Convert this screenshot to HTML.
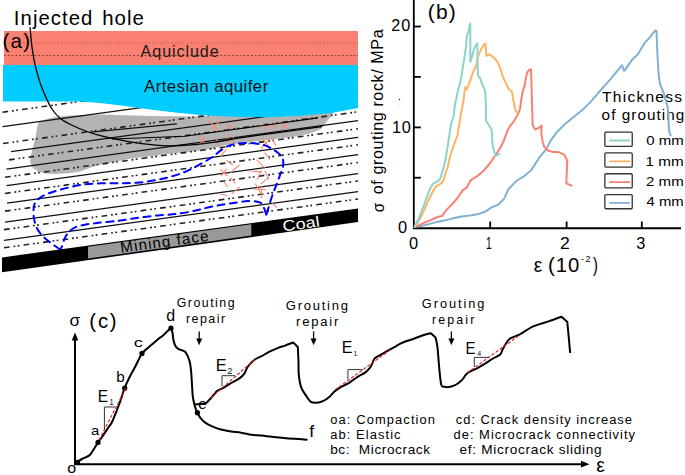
<!DOCTYPE html>
<html><head><meta charset="utf-8"><style>
html,body{margin:0;padding:0;background:#fff;}
svg{display:block;}
text{font-family:"Liberation Sans",sans-serif;white-space:pre;}
</style></head><body>
<svg width="685" height="475" viewBox="0 0 685 475">
<rect width="685" height="475" fill="#fff"/>
<polygon points="38.5,122.6 45.0,119.5 55.0,117.0 70.0,115.5 100.0,114.5 150.0,116.0 195.0,116.5 240.0,114.0 300.0,111.0 335.0,110.0 333.0,114.0 328.0,120.0 321.0,129.0 314.0,132.0 308.0,133.8 300.0,136.0 275.0,139.0 250.0,142.0 225.0,145.3 212.6,148.4 192.2,151.5 171.7,153.5 151.3,156.2 130.9,158.6 110.4,162.7 98.0,165.0 90.0,167.8 80.0,171.5 70.5,173.0 55.0,174.0 45.0,173.6 38.0,171.5 33.0,168.0 30.0,162.0 31.0,155.0 32.6,148.7 34.5,141.0 36.0,135.0 37.0,128.0" fill="#B3B3B3"/>
<line x1="2.5" y1="112.17" x2="358" y2="63.22" stroke="#222" stroke-width="1.6" stroke-dasharray="5.7 3.9 1.8 2.3 1.8 4.2"/>
<line x1="2.5" y1="126.67" x2="358" y2="77.72" stroke="#111" stroke-width="1.25"/>
<line x1="3" y1="143.50" x2="358" y2="94.62" stroke="#222" stroke-width="1.6" stroke-dasharray="5.7 3.9 1.8 2.3 1.8 4.2"/>
<line x1="11" y1="151.70" x2="358" y2="103.92" stroke="#111" stroke-width="1.25"/>
<line x1="9" y1="159.87" x2="358" y2="111.82" stroke="#222" stroke-width="1.6" stroke-dasharray="5.7 3.9 1.8 2.3 1.8 4.2"/>
<line x1="6.4" y1="169.03" x2="358" y2="120.62" stroke="#111" stroke-width="1.25"/>
<line x1="5" y1="177.32" x2="358" y2="128.72" stroke="#222" stroke-width="1.6" stroke-dasharray="5.7 3.9 1.8 2.3 1.8 4.2"/>
<line x1="6.6" y1="185.70" x2="358" y2="137.32" stroke="#111" stroke-width="1.25"/>
<line x1="5" y1="193.42" x2="358" y2="144.82" stroke="#222" stroke-width="1.6" stroke-dasharray="5.7 3.9 1.8 2.3 1.8 4.2"/>
<line x1="7" y1="203.05" x2="358" y2="154.72" stroke="#111" stroke-width="1.25"/>
<line x1="5" y1="211.12" x2="358" y2="162.52" stroke="#222" stroke-width="1.6" stroke-dasharray="5.7 3.9 1.8 2.3 1.8 4.2"/>
<line x1="5" y1="222.22" x2="358" y2="173.62" stroke="#111" stroke-width="1.25"/>
<line x1="4" y1="229.66" x2="358" y2="180.92" stroke="#222" stroke-width="1.6" stroke-dasharray="5.7 3.9 1.8 2.3 1.8 4.2"/>
<line x1="4" y1="240.26" x2="358" y2="191.52" stroke="#111" stroke-width="1.25"/>
<line x1="4" y1="247.76" x2="358" y2="199.02" stroke="#222" stroke-width="1.6" stroke-dasharray="5.7 3.9 1.8 2.3 1.8 4.2"/>
<line x1="90.7" y1="132.1" x2="176.9" y2="123.9" stroke="#111" stroke-width="1.25"/>
<line x1="208.9" y1="120.8" x2="219.1" y2="131.0" stroke="#F58A78" stroke-width="1.1"/>
<line x1="219.8" y1="120.8" x2="211.1" y2="130.2" stroke="#F58A78" stroke-width="1.1"/>
<line x1="226.4" y1="131.0" x2="227.8" y2="124.4" stroke="#F58A78" stroke-width="1.1"/>
<line x1="227.8" y1="124.4" x2="232.2" y2="128.8" stroke="#F58A78" stroke-width="1.1"/>
<line x1="227.8" y1="133.9" x2="227.8" y2="142.7" stroke="#F58A78" stroke-width="1.1"/>
<line x1="215.4" y1="136.1" x2="219.1" y2="147.0" stroke="#F58A78" stroke-width="1.1"/>
<line x1="233.0" y1="136.8" x2="234.4" y2="143.4" stroke="#F58A78" stroke-width="1.1"/>
<line x1="198.6" y1="136.8" x2="204.5" y2="143.4" stroke="#F58A78" stroke-width="1.1"/>
<line x1="204.5" y1="136.8" x2="199.4" y2="144.1" stroke="#F58A78" stroke-width="1.1"/>
<line x1="257.8" y1="126.6" x2="263.6" y2="124.4" stroke="#F58A78" stroke-width="1.1"/>
<line x1="263.6" y1="124.4" x2="266.5" y2="131.0" stroke="#F58A78" stroke-width="1.1"/>
<line x1="268.0" y1="128.0" x2="273.8" y2="122.2" stroke="#F58A78" stroke-width="1.1"/>
<line x1="273.8" y1="122.2" x2="275.3" y2="128.0" stroke="#F58A78" stroke-width="1.1"/>
<line x1="281.1" y1="121.5" x2="288.4" y2="129.5" stroke="#F58A78" stroke-width="1.1"/>
<line x1="288.4" y1="121.5" x2="281.1" y2="130.2" stroke="#F58A78" stroke-width="1.1"/>
<line x1="261.4" y1="137.5" x2="270.9" y2="148.5" stroke="#F58A78" stroke-width="1.1"/>
<line x1="269.5" y1="139.0" x2="260.7" y2="149.2" stroke="#F58A78" stroke-width="1.1"/>
<line x1="270.9" y1="137.5" x2="276.0" y2="145.6" stroke="#F58A78" stroke-width="1.1"/>
<line x1="226.6" y1="149.2" x2="220.3" y2="156.7" stroke="#F58A78" stroke-width="1.1"/>
<line x1="226.4" y1="160.3" x2="232.6" y2="165.0" stroke="#F58A78" stroke-width="1.1"/>
<line x1="239.4" y1="165.0" x2="230.5" y2="172.6" stroke="#F58A78" stroke-width="1.1"/>
<line x1="220.3" y1="169.2" x2="227.2" y2="176.0" stroke="#F58A78" stroke-width="1.1"/>
<line x1="226.5" y1="169.2" x2="221.0" y2="176.0" stroke="#F58A78" stroke-width="1.1"/>
<line x1="230.5" y1="177.4" x2="235.3" y2="183.5" stroke="#F58A78" stroke-width="1.1"/>
<line x1="223.7" y1="181.5" x2="227.8" y2="187.0" stroke="#F58A78" stroke-width="1.1"/>
<line x1="239.4" y1="187.0" x2="231.9" y2="193.8" stroke="#F58A78" stroke-width="1.1"/>
<line x1="220.3" y1="193.8" x2="227.1" y2="195.8" stroke="#F58A78" stroke-width="1.1"/>
<line x1="256.5" y1="159.6" x2="264.7" y2="167.8" stroke="#F58A78" stroke-width="1.1"/>
<line x1="251.0" y1="171.2" x2="262.0" y2="171.9" stroke="#F58A78" stroke-width="1.1"/>
<line x1="261.3" y1="170.5" x2="257.2" y2="179.4" stroke="#F58A78" stroke-width="1.1"/>
<line x1="264.7" y1="170.5" x2="268.8" y2="179.4" stroke="#F58A78" stroke-width="1.1"/>
<line x1="268.8" y1="177.4" x2="260.6" y2="184.2" stroke="#F58A78" stroke-width="1.1"/>
<line x1="255.1" y1="183.5" x2="261.3" y2="193.8" stroke="#F58A78" stroke-width="1.1"/>
<line x1="253.8" y1="189.0" x2="266.1" y2="189.7" stroke="#F58A78" stroke-width="1.1"/>
<line x1="261.3" y1="185.6" x2="261.3" y2="197.9" stroke="#F58A78" stroke-width="1.1"/>
<line x1="264.7" y1="152.7" x2="270.2" y2="159.6" stroke="#F58A78" stroke-width="1.1"/>
<line x1="272.2" y1="203.4" x2="277.0" y2="207.5" stroke="#F58A78" stroke-width="1.1"/>
<path d="M60,249.5 C58.9,248.7 56.1,246.9 53.4,244.8 C50.7,242.8 46.4,239.6 43.9,237.2 C41.4,234.8 39.9,233.3 38.3,230.6 C36.7,227.9 35.3,224.2 34.5,221.1 C33.7,217.9 33.5,214.5 33.5,211.7 C33.5,208.9 33.5,206.3 34.5,204.1 C35.5,201.9 37.0,200.1 39.2,198.4 C41.4,196.7 43.8,195.3 47.7,193.7 C51.7,192.1 57.2,190.4 62.9,188.9 C68.6,187.4 75.5,185.7 81.8,184.8 C88.1,183.9 94.4,183.6 100.8,183.3 C107.2,183.0 113.7,183.3 120.0,183.2 C126.3,183.1 132.6,183.2 138.9,182.6 C145.2,182.0 152.2,180.9 157.9,179.8 C163.6,178.7 168.3,177.4 173.0,176.0 C177.7,174.6 181.9,173.2 186.3,171.3 C190.7,169.4 195.4,166.8 199.5,164.6 C203.6,162.4 207.9,159.9 210.9,158.0 C213.9,156.1 215.2,154.8 217.6,153.0 C220.0,151.2 222.4,148.8 225.2,147.3 C228.0,145.8 231.1,144.8 234.6,144.1 C238.1,143.4 242.5,143.1 246.0,143.0 C249.5,142.9 252.3,143.1 255.5,143.5 C258.7,143.9 262.2,144.5 265.0,145.4 C267.8,146.3 270.1,147.8 272.5,149.2 C274.9,150.6 277.5,152.2 279.2,153.9 C280.9,155.6 282.3,157.4 282.9,159.6 C283.5,161.8 283.4,164.7 282.9,167.2 C282.4,169.7 281.0,172.3 280.1,174.8 C279.2,177.3 278.2,179.9 277.3,182.4 C276.4,184.9 275.3,187.5 274.4,190.0 C273.4,192.5 272.6,194.7 271.6,197.5 C270.7,200.3 269.6,204.2 268.7,207.0 C267.8,209.8 266.7,213.3 266.3,214.6" fill="none" stroke="#0000FF" stroke-width="2" stroke-linecap="round" stroke-dasharray="7 5.5"/>
<path d="M266.3,214.6 C265.9,213.5 264.9,209.8 264.0,207.9 C263.1,206.0 262.3,204.2 261.2,203.2 C260.1,202.2 259.6,202.1 257.4,201.7 C255.2,201.3 251.1,200.8 247.9,200.9 C244.7,201.0 242.2,201.8 238.4,202.3 C234.6,202.9 229.9,203.4 225.2,204.2 C220.5,205.0 214.9,205.9 210.0,207.0 C205.1,208.1 201.3,209.3 195.8,210.5 C190.3,211.7 183.1,213.1 176.8,213.9 C170.5,214.7 164.2,214.8 157.9,215.4 C151.6,216.0 145.2,216.8 138.9,217.7 C132.6,218.5 124.5,219.9 120.0,220.5 C115.5,221.1 115.9,221.1 112.1,221.5 C108.3,221.9 101.7,222.4 97.0,223.0 C92.3,223.6 87.5,224.1 83.7,224.9 C79.9,225.7 76.7,226.5 74.2,227.8 C71.7,229.1 70.2,230.8 68.6,232.5 C67.0,234.2 65.9,235.8 64.8,238.2 C63.7,240.6 62.7,244.8 61.9,246.7 C61.1,248.6 60.3,249.0 60.0,249.5" fill="none" stroke="#0000FF" stroke-width="2" stroke-linecap="round" stroke-dasharray="7 5.5"/>
<polygon points="3.0,65.0 358.0,65.0 358.0,108.0 330.0,113.2 300.0,115.8 270.0,117.3 235.0,116.8 200.0,115.0 175.0,112.6 150.0,109.4 125.0,105.9 100.0,103.0 80.0,101.5 3.0,101.5" fill="#00CCFF"/>
<rect x="4" y="31" width="354" height="34" fill="#FA8072"/>
<line x1="4" y1="43" x2="358" y2="43" stroke="#C0604F" stroke-width="1" stroke-dasharray="1.8 2"/>
<line x1="4" y1="55.6" x2="358" y2="55.6" stroke="#6E3A33" stroke-width="1" stroke-dasharray="1.8 2"/>
<path d="M30.1,27.1 C30.4,30.6 31.2,41.4 32.1,47.8 C33.0,54.2 33.9,59.6 35.2,65.5 C36.6,71.4 38.5,78.2 40.2,83.2 C41.9,88.2 43.4,91.6 45.3,95.8 C47.2,100.0 49.1,104.7 51.6,108.5 C54.1,112.3 57.2,115.8 60.4,118.5 C63.5,121.2 66.1,122.3 70.5,124.5 C74.9,126.7 82.1,129.7 87.0,131.5 C91.9,133.3 95.7,134.3 100.0,135.5 C104.3,136.7 106.0,137.2 113.0,138.6 C120.0,140.0 132.5,142.5 141.7,143.7 C150.9,144.9 159.4,145.7 168.3,145.8 C177.2,146.0 187.2,145.2 195.0,144.6 C202.8,144.0 208.3,143.2 215.0,142.2 C221.7,141.2 231.7,139.2 235.0,138.6" fill="none" stroke="#000" stroke-width="1.3"/>
<line x1="235" y1="138.55" x2="322" y2="126.57" stroke="#000" stroke-width="1.2"/>
<path d="M112,139 C140,137.8 165,137.2 185,136.24 L318,117.92" fill="none" stroke="#000" stroke-width="1.2"/>
<polygon points="2,257.4 358,208.4 358,222.1 2,272.3" fill="#000"/>
<polygon points="88.0,246.8 251.3,224.3 251.3,235.5 88.0,258.6" fill="#999999"/>
<text x="13.87" y="24.60" font-size="20.28" textLength="78.39" lengthAdjust="spacing" fill="#000"  >Injected</text>
<text x="102.27" y="24.70" font-size="20.42" textLength="41.56" lengthAdjust="spacing" fill="#000"  >hole</text>
<text x="2.47" y="48.19" font-size="20.54" textLength="27.56" lengthAdjust="spacing" fill="#000"  >(a)</text>
<text x="140.60" y="56.60" font-size="16.11" textLength="78.07" lengthAdjust="spacing" fill="#1a1a1a"  >Aquiclude</text>
<text x="144.00" y="91.90" font-size="16.81" textLength="124.23" lengthAdjust="spacing" fill="#111"  >Artesian aquifer</text>
<g transform="rotate(-7.84 122.3 252.7)"><text x="121.09" y="252.70" font-size="15.14" textLength="88.77" lengthAdjust="spacing" fill="#000"  >Mining face</text></g>
<g transform="rotate(-7.84 284.2 231.3)"><text x="283.30" y="231.30" font-size="15.28" textLength="37.21" lengthAdjust="spacingAndGlyphs" fill="#fff"  >Coal</text></g>
<line x1="413.8" y1="0" x2="413.8" y2="229" stroke="#000" stroke-width="1.8"/>
<line x1="413" y1="228.2" x2="681" y2="228.2" stroke="#000" stroke-width="2"/>
<line x1="413.8" y1="26.5" x2="420.8" y2="26.5" stroke="#000" stroke-width="1.8"/>
<line x1="413.8" y1="76.9" x2="420.8" y2="76.9" stroke="#000" stroke-width="1.8"/>
<line x1="413.8" y1="127.4" x2="420.8" y2="127.4" stroke="#000" stroke-width="1.8"/>
<line x1="413.8" y1="177.7" x2="420.8" y2="177.7" stroke="#000" stroke-width="1.8"/>
<line x1="490.2" y1="228.2" x2="490.2" y2="221.5" stroke="#000" stroke-width="1.8"/>
<line x1="566.6" y1="228.2" x2="566.6" y2="221.5" stroke="#000" stroke-width="1.8"/>
<line x1="641.8" y1="228.2" x2="641.8" y2="221.5" stroke="#000" stroke-width="1.8"/>
<text x="391.29" y="30.74" font-size="16.20" textLength="19.03" lengthAdjust="spacing" fill="#000"  >20</text>
<text x="392.09" y="132.74" font-size="16.34" textLength="18.73" lengthAdjust="spacing" fill="#000"  >10</text>
<text x="398.04" y="232.84" font-size="15.63" textLength="9.15" lengthAdjust="spacingAndGlyphs" fill="#000"  >0</text>
<text x="409.14" y="248.74" font-size="16.34" textLength="9.15" lengthAdjust="spacingAndGlyphs" fill="#000"  >0</text>
<text x="486.08" y="248.75" font-size="16.74" textLength="5.69" lengthAdjust="spacingAndGlyphs" fill="#000"  >1</text>
<text x="559.92" y="248.90" font-size="17.14" textLength="9.79" lengthAdjust="spacingAndGlyphs" fill="#000"  >2</text>
<text x="636.24" y="248.83" font-size="17.04" textLength="9.11" lengthAdjust="spacingAndGlyphs" fill="#000"  >3</text>
<text x="427.74" y="19.20" font-size="20.97" textLength="28.06" lengthAdjust="spacing" fill="#000"  >(b)</text>
<text x="533.82" y="271.50" font-size="19.82" textLength="8.58" lengthAdjust="spacingAndGlyphs" fill="#000"  >ε</text>
<text x="547.98" y="271.63" font-size="20.32" textLength="31.33" lengthAdjust="spacing" fill="#000"  >(10</text>
<text x="580.94" y="261.70" font-size="9.00" textLength="9.50" lengthAdjust="spacing" fill="#000"  >-2</text>
<text x="592.95" y="271.75" font-size="19.78" textLength="4.87" lengthAdjust="spacingAndGlyphs" fill="#000"  >)</text>
<g transform="translate(383.4 0) rotate(-90)"><text x="-212.31" y="0.13" font-size="17.04" textLength="9.37" lengthAdjust="spacingAndGlyphs" fill="#000"  >σ</text><text x="-194.24" y="0.00" font-size="16.11" textLength="164.84" lengthAdjust="spacing" fill="#000"  >of grouting rock/ MPa</text></g>
<circle cx="399.5" cy="99.5" r="0.8" fill="#333"/>
<circle cx="399.2" cy="106.5" r="0.6" fill="#ccc"/>
<text x="602.09" y="102.00" font-size="15.56" textLength="79.95" lengthAdjust="spacing" fill="#000"  >Thickness</text>
<text x="601.59" y="119.70" font-size="15.28" textLength="82.71" lengthAdjust="spacing" fill="#000"  >of grouting</text>
<rect x="604.85" y="132.15" width="27.4" height="14.2" rx="1.2" fill="none" stroke="#333" stroke-width="1.3"/>
<line x1="610" y1="140.5" x2="629.4" y2="140.5" stroke="#8DD3C7" stroke-width="1.8" stroke-linecap="round"/>
<text x="646.20" y="145.17" font-size="12.96" textLength="37.50" lengthAdjust="spacingAndGlyphs" fill="#000"  >0 mm</text>
<rect x="604.85" y="152.95" width="27.4" height="14.2" rx="1.2" fill="none" stroke="#333" stroke-width="1.3"/>
<line x1="610" y1="161.3" x2="629.4" y2="161.3" stroke="#FDB462" stroke-width="1.8" stroke-linecap="round"/>
<text x="645.58" y="165.60" font-size="13.33" textLength="38.13" lengthAdjust="spacingAndGlyphs" fill="#000"  >1 mm</text>
<rect x="604.85" y="173.75" width="27.4" height="14.2" rx="1.2" fill="none" stroke="#333" stroke-width="1.3"/>
<line x1="610" y1="182.1" x2="629.4" y2="182.1" stroke="#FB8072" stroke-width="1.8" stroke-linecap="round"/>
<text x="646.05" y="185.90" font-size="13.14" textLength="37.65" lengthAdjust="spacingAndGlyphs" fill="#000"  >2 mm</text>
<rect x="604.85" y="194.55" width="27.4" height="14.2" rx="1.2" fill="none" stroke="#333" stroke-width="1.3"/>
<line x1="610" y1="202.9" x2="629.4" y2="202.9" stroke="#80B1D3" stroke-width="1.8" stroke-linecap="round"/>
<text x="646.50" y="206.30" font-size="13.33" textLength="37.19" lengthAdjust="spacingAndGlyphs" fill="#000"  >4 mm</text>
<polyline points="414.7,226.8 421.9,225.8 429.8,223.9 437.0,221.9 444.2,220.6 452.1,218.6 461.3,216.6 471.8,215.3 478.4,214.0 485.0,211.8 491.5,207.4 498.1,204.8 504.0,198.9 508.5,189.0 517.0,180.5 524.6,175.8 531.3,170.1 535.0,164.4 539.8,156.8 545.5,150.2 551.2,139.8 556.8,132.2 564.4,124.6 575.8,115.2 583.0,109.5 591.1,101.4 602.1,88.5 611.0,78.6 620.9,66.4 622.0,65.3 624.2,70.8 627.5,66.4 632.0,59.8 637.9,54.3 641.9,47.6 645.2,42.1 649.6,37.7 652.9,33.3 655.6,30.4 656.5,31.0 657.4,53.2 658.5,73.0 660.0,84.1 663.6,92.9 666.2,101.8 667.8,107.8 668.5,119.1 669.0,130.3 670.5,135.1" fill="none" stroke="#80B1D3" stroke-width="2" stroke-linejoin="round" stroke-linecap="round"/>
<polyline points="414.7,226.8 419.3,225.2 424.5,222.6 429.8,220.6 435.0,218.0 439.0,216.6 442.2,216.0 444.2,212.7 448.2,208.1 453.4,202.8 458.7,196.3 462.6,190.4 466.6,187.7 470.5,180.5 473.1,178.5 478.4,175.3 481.7,172.6 484.3,170.0 489.8,163.5 495.5,155.0 500.0,148.3 503.8,140.7 507.6,130.3 510.4,125.6 514.2,120.8 518.0,114.2 519.9,109.5 521.5,98.0 522.7,91.7 524.6,85.4 525.9,77.8 527.2,72.7 529.0,70.2 531.0,69.2 531.6,87.9 532.2,110.0 532.6,124.6 535.0,129.4 538.8,128.0 541.7,125.6 541.3,133.2 542.6,141.7 544.5,147.4 547.4,150.2 553.0,152.1 558.7,152.1 564.4,154.9 567.3,160.6 566.7,173.9 566.3,183.4 571.6,185.6" fill="none" stroke="#FB8072" stroke-width="2" stroke-linejoin="round" stroke-linecap="round"/>
<polyline points="414.7,226.8 419.3,220.0 424.5,209.4 429.1,198.9 433.1,191.0 435.7,186.4 438.3,185.1 441.6,183.1 443.6,179.9 445.5,173.0 447.5,168.0 450.0,156.8 453.5,146.0 457.6,135.0 460.4,117.0 463.6,100.0 464.6,90.8 465.6,87.0 466.8,89.5 468.5,85.0 470.3,80.4 473.2,71.8 476.0,66.2 477.9,56.7 480.7,50.0 483.6,45.3 485.5,43.4 486.4,55.7 489.6,54.4 494.0,57.6 497.8,62.4 500.6,69.0 502.5,75.6 505.7,82.8 508.8,89.2 512.0,91.7 513.3,100.5 515.2,109.5 517.4,113.3" fill="none" stroke="#FDB462" stroke-width="2" stroke-linejoin="round" stroke-linecap="round"/>
<polyline points="414.7,226.8 418.0,220.0 421.9,210.7 425.8,200.2 429.1,191.0 431.7,185.8 433.7,183.1 437.0,181.8 439.6,179.9 440.9,176.6 442.4,172.0 445.3,160.6 448.1,143.6 450.9,124.6 453.8,115.2 454.7,105.7 458.0,90.8 460.5,81.3 462.4,70.0 464.3,58.6 466.1,45.3 466.9,35.8 468.8,30.2 470.3,23.5 470.3,62.0 472.6,54.8 474.1,48.2 476.0,45.3 477.3,43.4 477.9,75.6 479.8,77.5 482.6,85.1 485.1,90.8 486.0,105.0 486.0,120.8 489.8,126.5 491.7,130.3 492.6,145.5 495.5,155.9 499.3,154.0" fill="none" stroke="#8DD3C7" stroke-width="2" stroke-linejoin="round" stroke-linecap="round"/>
<line x1="75" y1="464.3" x2="75" y2="339" stroke="#000" stroke-width="2"/>
<polygon points="75,332.6 71.7,340.5 78.3,340.5" fill="#000"/>
<line x1="74" y1="464.3" x2="582" y2="464.3" stroke="#000" stroke-width="2"/>
<polygon points="589.5,464.2 581,460.8 581,467.6" fill="#000"/>
<path d="M77,462.4 C77.8,461.8 80.0,460.1 82.0,459.0 C84.0,457.9 87.3,456.8 89.0,455.6 C90.7,454.4 90.5,454.2 92.0,452.0 C93.5,449.8 96.3,444.9 98.0,442.4 C99.7,439.9 100.3,439.4 102.0,437.0 C103.7,434.6 106.3,430.5 108.0,428.0 C109.7,425.5 110.5,425.0 112.0,422.0 C113.5,419.0 115.7,413.3 117.0,410.0 C118.3,406.7 118.7,405.6 120.0,402.0 C121.3,398.4 123.1,392.2 124.6,388.2 C126.1,384.2 127.3,381.6 129.0,378.2 C130.7,374.8 133.0,370.8 134.6,367.8 C136.2,364.8 137.1,362.6 138.4,360.2 C139.7,357.8 140.6,355.2 142.2,353.2 C143.8,351.1 145.8,349.7 147.9,347.9 C150.0,346.1 152.4,343.9 154.5,342.2 C156.6,340.5 158.8,338.6 160.2,337.5 C161.6,336.4 161.9,336.6 163.0,335.6 C164.1,334.7 165.5,333.1 166.8,331.8 C168.1,330.5 170.3,328.6 171.0,328.0 C171.2,328.8 172.1,330.6 172.5,332.7 C172.9,334.8 173.0,338.1 173.5,340.3 C174.0,342.5 174.6,344.6 175.4,346.0 C176.2,347.4 176.9,348.0 178.2,348.8 C179.4,349.6 181.6,350.1 182.9,350.7 C184.2,351.3 184.7,350.9 185.8,352.6 C186.9,354.4 188.7,357.9 189.6,361.2 C190.5,364.5 190.8,368.5 191.2,372.5 C191.6,376.5 191.7,380.8 192.0,385.0 C192.3,389.2 192.4,394.2 193.0,398.0 C193.6,401.8 194.6,405.2 195.3,407.6 C196.0,410.1 196.6,411.0 197.4,412.7 C198.2,414.4 199.1,416.1 200.4,417.8 C201.8,419.5 203.4,421.4 205.5,422.9 C207.6,424.4 210.1,425.5 212.7,426.6 C215.3,427.7 217.8,428.7 220.9,429.5 C224.0,430.3 227.7,431.0 231.1,431.5 C234.5,432.0 237.9,432.1 241.3,432.7 C244.7,433.2 248.1,434.3 251.5,434.8 C254.9,435.3 258.3,435.3 261.7,435.6 C265.1,435.9 267.9,436.4 272.0,436.8 C276.1,437.2 280.5,437.7 286.3,438.2 C292.1,438.7 303.3,439.4 306.7,439.7" fill="none" stroke="#000" stroke-width="2.0" stroke-linejoin="round" stroke-linecap="round"/>
<path d="M195.2,404.2 C196.1,404.2 198.8,404.1 200.5,404.0 C202.2,403.9 204.2,403.8 205.4,403.4 C206.7,402.9 207.1,402.2 208.0,401.3 C208.9,400.4 210.0,399.1 211.0,398.0 C212.0,396.9 212.9,395.7 214.0,394.5 C215.1,393.3 215.6,392.0 217.3,390.8 C219.0,389.6 221.7,388.8 224.3,387.3 C226.9,385.8 230.4,383.5 233.0,382.0 C235.6,380.5 237.9,379.5 239.8,378.1 C241.7,376.7 243.2,375.3 244.5,373.4 C245.8,371.5 246.2,368.8 247.9,366.5 C249.6,364.2 252.6,361.2 254.9,359.5 C257.2,357.8 259.3,357.4 261.8,356.0 C264.3,354.6 267.3,352.8 270.0,351.4 C272.7,350.0 275.6,348.9 278.1,347.9 C280.6,346.9 282.5,346.5 285.0,345.6 C287.5,344.7 291.8,343.0 293.1,342.5 C293.9,343.2 297.0,346.2 297.8,347.0 C297.9,349.1 298.2,354.7 298.4,359.5 C298.6,364.3 298.4,371.1 298.9,375.7 C299.4,380.3 300.0,384.0 301.2,387.3 C302.4,390.6 304.3,393.0 305.9,395.4 C307.4,397.8 308.8,400.4 310.5,401.6 C312.2,402.8 314.2,402.9 316.4,402.8 C318.5,402.7 321.3,401.9 323.4,400.9 C325.5,399.9 327.3,398.5 329.2,396.9 C331.1,395.3 332.9,392.9 335.0,391.1 C337.1,389.4 339.6,387.8 342.0,386.4 C344.4,385.0 346.6,384.4 349.1,382.9 C351.6,381.3 354.5,378.9 357.2,377.1 C359.9,375.4 363.2,374.0 365.4,372.4 C367.5,370.8 368.9,369.2 370.1,367.7 C371.3,366.1 371.6,364.7 372.4,363.1 C373.2,361.6 373.3,359.8 374.7,358.4 C376.1,357.0 378.2,356.3 380.6,354.9 C383.0,353.5 386.3,351.6 388.8,350.2 C391.3,348.8 393.5,347.6 395.8,346.3 C398.1,345.0 399.7,343.8 402.8,342.5 C405.9,341.2 411.0,339.8 414.5,338.5 C418.0,337.2 421.1,335.9 423.8,335.0 C426.5,334.1 429.6,333.5 430.8,333.2 C431.6,333.9 434.7,336.7 435.5,337.4 C435.8,338.9 436.8,342.0 437.4,346.7 C438.0,351.4 438.4,359.1 439.0,365.4 C439.6,371.7 440.3,380.9 441.2,384.5 C442.1,388.1 443.1,386.4 444.6,386.8 C446.1,387.2 448.5,387.2 450.4,386.8 C452.3,386.4 454.3,385.6 456.2,384.5 C458.1,383.4 460.4,381.4 462.0,379.9 C463.6,378.3 464.4,376.5 465.5,375.2 C466.6,373.9 467.0,373.3 468.9,372.2 C470.8,371.1 474.3,369.7 477.0,368.3 C479.7,366.9 482.6,365.2 485.1,363.7 C487.6,362.1 489.6,360.6 492.1,359.0 C494.6,357.4 498.5,355.9 500.2,354.4 C501.9,352.9 501.4,351.9 502.5,349.8 C503.6,347.7 505.8,343.6 507.1,341.7 C508.5,339.8 508.5,339.4 510.6,338.2 C512.7,337.0 516.2,336.2 519.9,334.3 C523.6,332.4 528.5,328.5 532.6,326.6 C536.7,324.7 540.7,323.9 544.2,322.7 C547.7,321.5 550.5,320.7 553.4,319.7 C556.3,318.7 560.1,317.2 561.5,316.7 C562.5,317.6 566.3,321.1 567.3,322.0 C567.5,324.1 568.0,329.7 568.5,334.7 C569.0,339.7 569.8,349.2 570.1,352.1" fill="none" stroke="#000" stroke-width="2.0" stroke-linejoin="round" stroke-linecap="round"/>
<circle cx="77.5" cy="462.4" r="2.6" fill="#000"/>
<circle cx="98" cy="442.4" r="2.6" fill="#000"/>
<circle cx="124.7" cy="388.2" r="2.6" fill="#000"/>
<circle cx="142" cy="353.4" r="2.6" fill="#000"/>
<circle cx="171" cy="328" r="2.6" fill="#000"/>
<circle cx="197.4" cy="412.7" r="2.6" fill="#000"/>
<line x1="99" y1="440" x2="126" y2="388" stroke="#E81818" stroke-width="1.1" stroke-dasharray="3.2 1.8"/>
<line x1="210.9" y1="397.8" x2="254.9" y2="359.5" stroke="#E81818" stroke-width="1.1" stroke-dasharray="3.2 1.8"/>
<line x1="335" y1="389.9" x2="389.9" y2="350.2" stroke="#E81818" stroke-width="1.1" stroke-dasharray="3.2 1.8"/>
<line x1="467.3" y1="372.9" x2="520.6" y2="334.3" stroke="#E81818" stroke-width="1.1" stroke-dasharray="3.2 1.8"/>
<polyline points="104.4,429 104.4,407 115,407" fill="none" stroke="#333" stroke-width="1"/>
<polyline points="222,386.2 222,375.7 235.2,375.7" fill="none" stroke="#333" stroke-width="1"/>
<polyline points="347.9,379.4 347.9,369.6 362.6,369.6" fill="none" stroke="#333" stroke-width="1"/>
<polyline points="474.3,367.1 474.3,357.4 488.6,357.4" fill="none" stroke="#333" stroke-width="1"/>
<text x="69.41" y="325.54" font-size="16.30" textLength="10.69" lengthAdjust="spacingAndGlyphs" fill="#000"  >σ</text>
<text x="89.28" y="327.53" font-size="20.32" textLength="27.36" lengthAdjust="spacing" fill="#000"  >(c)</text>
<text x="67.36" y="472.55" font-size="14.73" textLength="8.92" lengthAdjust="spacingAndGlyphs" fill="#000"  >o</text>
<text x="91.01" y="435.46" font-size="13.64" textLength="8.23" lengthAdjust="spacingAndGlyphs" fill="#000"  >a</text>
<text x="116.29" y="382.35" font-size="15.48" textLength="8.46" lengthAdjust="spacingAndGlyphs" fill="#000"  >b</text>
<text x="133.87" y="347.07" font-size="12.73" textLength="9.07" lengthAdjust="spacingAndGlyphs" fill="#000"  >c</text>
<text x="166.16" y="320.54" font-size="15.89" textLength="8.90" lengthAdjust="spacingAndGlyphs" fill="#000"  >d</text>
<text x="198.20" y="408.65" font-size="14.55" textLength="8.40" lengthAdjust="spacingAndGlyphs" fill="#000"  >e</text>
<text x="309.32" y="436.60" font-size="16.11" textLength="4.94" lengthAdjust="spacingAndGlyphs" fill="#000"  >f</text>
<text x="97.66" y="401.90" font-size="15.80" textLength="10.31" lengthAdjust="spacingAndGlyphs" fill="#000"  >E</text>
<text x="109.40" y="405.00" font-size="8.26" textLength="4.14" lengthAdjust="spacingAndGlyphs" fill="#111"  >1</text>
<text x="215.69" y="371.00" font-size="17.25" textLength="10.92" lengthAdjust="spacingAndGlyphs" fill="#000"  >E</text>
<text x="227.34" y="373.60" font-size="9.00" textLength="5.08" lengthAdjust="spacingAndGlyphs" fill="#111"  >2</text>
<text x="341.72" y="352.90" font-size="17.10" textLength="10.67" lengthAdjust="spacingAndGlyphs" fill="#000"  >E</text>
<text x="353.56" y="355.70" font-size="7.68" textLength="3.75" lengthAdjust="spacingAndGlyphs" fill="#111"  >1</text>
<text x="465.51" y="353.90" font-size="17.25" textLength="9.94" lengthAdjust="spacingAndGlyphs" fill="#000"  >E</text>
<text x="477.16" y="355.70" font-size="6.81" textLength="3.93" lengthAdjust="spacingAndGlyphs" fill="#111"  >4</text>
<text x="176.68" y="307.10" font-size="12.36" textLength="57.92" lengthAdjust="spacing" fill="#000"  >Grouting</text>
<text x="185.93" y="322.80" font-size="12.50" textLength="39.18" lengthAdjust="spacing" fill="#000"  >repair</text>
<line x1="199.2" y1="331.5" x2="199.2" y2="340" stroke="#000" stroke-width="1.3"/>
<polygon points="199.2,345.2 196.2,338.5 202.2,338.5" fill="#000"/>
<text x="285.85" y="309.90" font-size="13.06" textLength="62.10" lengthAdjust="spacing" fill="#000"  >Grouting</text>
<text x="295.99" y="325.80" font-size="13.06" textLength="42.33" lengthAdjust="spacing" fill="#000"  >repair</text>
<line x1="313.6" y1="331.5" x2="313.6" y2="340" stroke="#000" stroke-width="1.3"/>
<polygon points="313.6,345.2 310.6,338.5 316.6,338.5" fill="#000"/>
<text x="421.86" y="308.40" font-size="12.78" textLength="62.47" lengthAdjust="spacing" fill="#000"  >Grouting</text>
<text x="432.03" y="323.80" font-size="12.36" textLength="42.27" lengthAdjust="spacing" fill="#000"  >repair</text>
<line x1="451.4" y1="331.5" x2="451.4" y2="340" stroke="#000" stroke-width="1.3"/>
<polygon points="451.4,345.2 448.4,338.5 454.4,338.5" fill="#000"/>
<text x="330.28" y="423.60" font-size="12.92" textLength="104.74" lengthAdjust="spacing" fill="#000"  >oa: Compaction</text>
<text x="330.28" y="438.80" font-size="12.92" textLength="70.24" lengthAdjust="spacing" fill="#000"  >ab: Elastic</text>
<text x="330.18" y="454.40" font-size="13.61" textLength="99.85" lengthAdjust="spacing" fill="#000"  >bc:  Microcrack</text>
<text x="455.78" y="423.60" font-size="12.92" textLength="176.22" lengthAdjust="spacing" fill="#000"  >cd: Crack density increase</text>
<text x="453.48" y="438.80" font-size="12.92" textLength="181.56" lengthAdjust="spacing" fill="#000"  >de: Microcrack connectivity</text>
<text x="459.56" y="454.40" font-size="13.61" textLength="141.94" lengthAdjust="spacing" fill="#000"  >ef: Microcrack sliding</text>
<text x="596.22" y="472.41" font-size="19.45" textLength="8.58" lengthAdjust="spacingAndGlyphs" fill="#000"  >ε</text>
</svg>
</body></html>
